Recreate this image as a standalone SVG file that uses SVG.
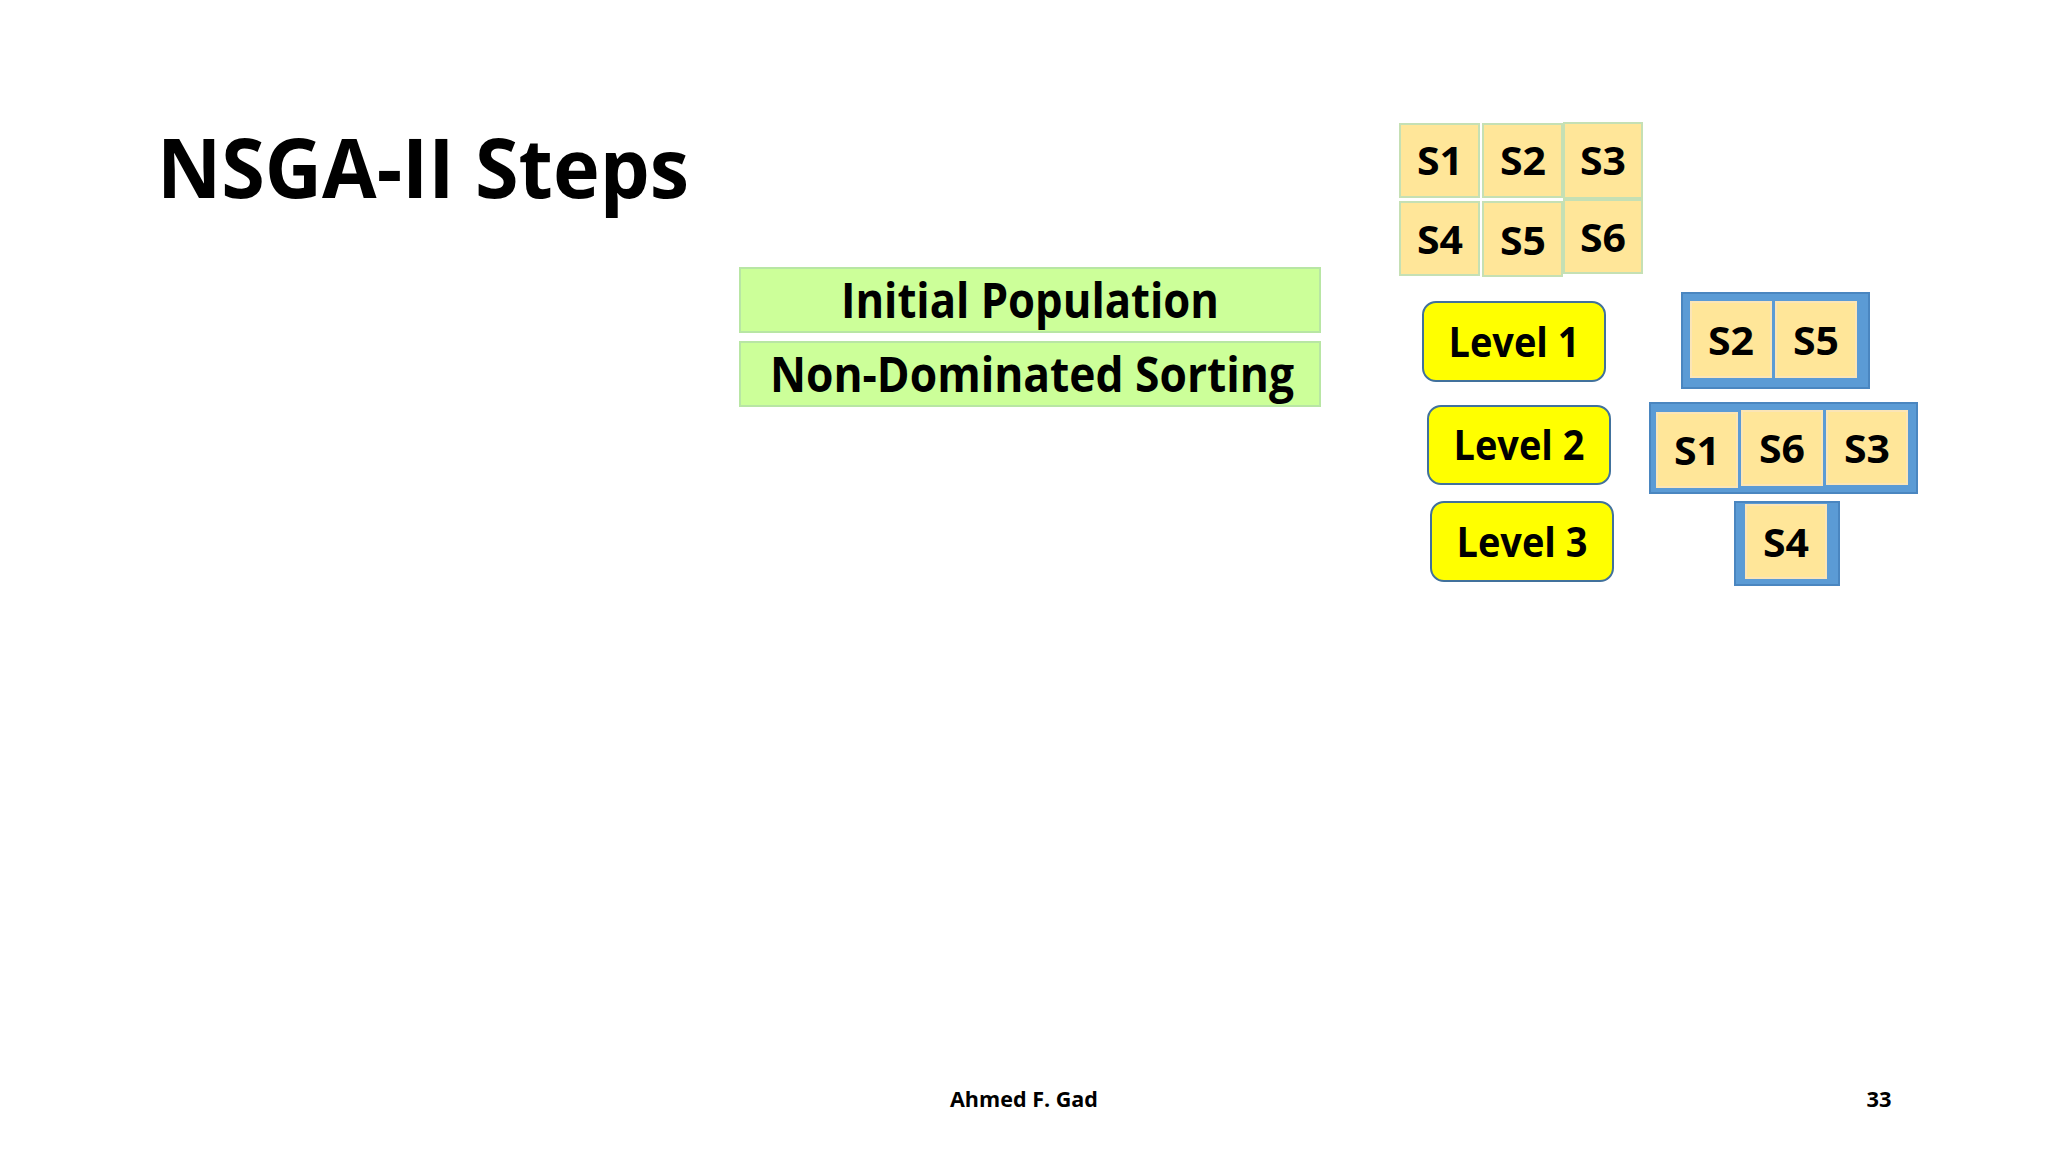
<svg xmlns="http://www.w3.org/2000/svg" width="2048" height="1152" viewBox="0 0 2048 1152">
<style>
  text { font-family: "Open Sans", Lato, "Liberation Sans", sans-serif; font-weight: bold; fill: #000; text-anchor: middle; }
  .sol { fill: #FFE699; stroke: #C5E0B4; stroke-width: 2; }
  .soli { fill: #FFE699; stroke: #FBE5B6; stroke-width: 2; }
  .step { fill: #CCFF99; stroke: #B8E6A4; stroke-width: 2; }
  .lvl { fill: #FFFF00; stroke: #41719C; stroke-width: 2; }
  .front { fill: #5B9BD5; stroke: #4A86C0; stroke-width: 2; }
  .s { font-size: 39px; }
  .l { font-size: 42px; }
</style>
<rect width="2048" height="1152" fill="#FFFFFF"/>
<g id="title"><text x="423" y="198" font-size="83" textLength="532" lengthAdjust="spacingAndGlyphs">NSGA-II Steps</text></g>

<g id="step-initial"><rect class="step" x="740" y="268" width="580" height="64"/><text x="1030" y="318" font-size="48" textLength="378" lengthAdjust="spacingAndGlyphs">Initial Population</text></g>
<g id="step-nds"><rect class="step" x="740" y="342" width="580" height="64"/><text x="1032" y="392" font-size="48" textLength="524" lengthAdjust="spacingAndGlyphs">Non-Dominated Sorting</text></g>

<g id="pop-S1"><rect class="sol" x="1400" y="124" width="79" height="73"/><text class="s" x="1440" y="175" textLength="46" lengthAdjust="spacingAndGlyphs">S1</text></g>
<g id="pop-S2"><rect class="sol" x="1483" y="124" width="79" height="73"/><text class="s" x="1523" y="175" textLength="46" lengthAdjust="spacingAndGlyphs">S2</text></g>
<g id="pop-S3"><rect class="sol" x="1564" y="123" width="78" height="75"/><text class="s" x="1603" y="175" textLength="46" lengthAdjust="spacingAndGlyphs">S3</text></g>
<g id="pop-S4"><rect class="sol" x="1400" y="202" width="79" height="73"/><text class="s" x="1440" y="254" textLength="46" lengthAdjust="spacingAndGlyphs">S4</text></g>
<g id="pop-S5"><rect class="sol" x="1483" y="202" width="79" height="74"/><text class="s" x="1523" y="255" textLength="46" lengthAdjust="spacingAndGlyphs">S5</text></g>
<g id="pop-S6"><rect class="sol" x="1564" y="200" width="78" height="73"/><text class="s" x="1603" y="252" textLength="46" lengthAdjust="spacingAndGlyphs">S6</text></g>

<g id="level1"><rect class="lvl" x="1423" y="302" width="182" height="79" rx="13"/><text class="l" x="1514" y="357" textLength="131" lengthAdjust="spacingAndGlyphs">Level 1</text></g>
<g id="level2"><rect class="lvl" x="1428" y="406" width="182" height="78" rx="13"/><text class="l" x="1519" y="460" textLength="131" lengthAdjust="spacingAndGlyphs">Level 2</text></g>
<g id="level3"><rect class="lvl" x="1431" y="502" width="182" height="79" rx="13"/><text class="l" x="1522" y="557" textLength="131" lengthAdjust="spacingAndGlyphs">Level 3</text></g>

<g id="front1">
  <rect class="front" x="1682" y="293" width="187" height="95"/>
  <rect class="soli" x="1691" y="302" width="80" height="75"/><text class="s" x="1731" y="355" textLength="46" lengthAdjust="spacingAndGlyphs">S2</text>
  <rect class="soli" x="1776" y="302" width="80" height="75"/><text class="s" x="1816" y="355" textLength="46" lengthAdjust="spacingAndGlyphs">S5</text>
</g>
<g id="front2">
  <rect class="front" x="1650" y="403" width="267" height="90"/>
  <rect class="soli" x="1657" y="413" width="80" height="74"/><text class="s" x="1697" y="465" textLength="46" lengthAdjust="spacingAndGlyphs">S1</text>
  <rect class="soli" x="1742" y="411" width="80" height="74"/><text class="s" x="1782" y="463" textLength="46" lengthAdjust="spacingAndGlyphs">S6</text>
  <rect class="soli" x="1827" y="411" width="80" height="73"/><text class="s" x="1867" y="463" textLength="46" lengthAdjust="spacingAndGlyphs">S3</text>
</g>
<g id="front3">
  <rect class="front" x="1735" y="502" width="104" height="83"/>
  <rect class="soli" x="1746" y="505" width="80" height="73"/><text class="s" x="1786" y="557" textLength="46" lengthAdjust="spacingAndGlyphs">S4</text>
</g>

<g id="connectors"></g>

<g id="footer">
  <text x="1024" y="1107" font-size="21" textLength="148" lengthAdjust="spacingAndGlyphs">Ahmed F. Gad</text>
  <text x="1879" y="1107" font-size="21" textLength="25" lengthAdjust="spacingAndGlyphs">33</text>
</g>
</svg>
